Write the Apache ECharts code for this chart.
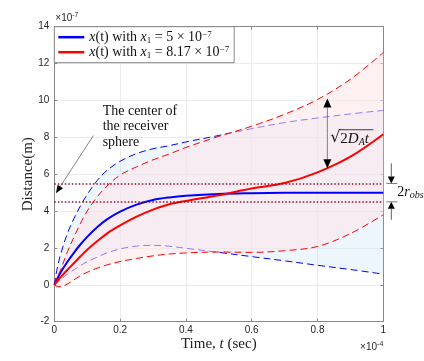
<!DOCTYPE html>
<html><head><meta charset="utf-8">
<script src="https://cdn.jsdelivr.net/npm/echarts/dist/echarts.min.js"></script>
<style>html,body{margin:0;padding:0;background:#fff}#c{width:424px;height:361px}</style>
</head><body><div id="c"></div>
<script>
// ---- data (time in units of 1e-4 s, distance in units of 1e-7 m) ----
const t          = [0, 0.01, 0.02, 0.04, 0.06, 0.08, 0.1, 0.13, 0.16, 0.2, 0.25, 0.3, 0.35, 0.4, 0.5, 0.6, 0.7, 0.8, 0.9, 1.0];
const blueMean   = [0, 0.36, 0.7, 1.25, 1.75, 2.2, 2.6, 3.12, 3.55, 3.97, 4.35, 4.6, 4.74, 4.83, 4.93, 4.97, 4.99, 5.0, 5.0, 5.0];
const redMean    = [0, 0.22, 0.43, 0.82, 1.18, 1.55, 1.9, 2.36, 2.78, 3.22, 3.7, 4.08, 4.37, 4.55, 4.86, 5.22, 5.52, 6.1, 6.95, 8.17];
const blueUpper  = [0, 1.0, 1.7, 2.8, 3.6, 4.3, 4.9, 5.65, 6.2, 6.7, 7.12, 7.38, 7.55, 7.75, 8.1, 8.47, 8.8, 9.05, 9.27, 9.46];
const blueLower  = [0, 0.15, 0.3, 0.58, 0.82, 1.05, 1.25, 1.5, 1.73, 1.95, 2.1, 2.14, 2.09, 1.98, 1.76, 1.53, 1.3, 1.06, 0.83, 0.58];
const redUpper   = [0, 0.45, 0.85, 1.8, 2.6, 3.35, 4.0, 4.77, 5.35, 5.95, 6.4, 6.78, 7.1, 7.45, 8.05, 8.6, 9.25, 10.05, 11.15, 12.6];
const redLower   = [0, -0.1, -0.1, 0.05, 0.27, 0.5, 0.68, 0.9, 1.08, 1.26, 1.43, 1.57, 1.67, 1.73, 1.78, 1.76, 1.85, 2.08, 2.78, 3.8];
const rObsBounds = [4.5, 5.5];
const receiverCenter = 5;
const legendNames = ['x(t) with x1 = 5 × 10^-7', 'x(t) with x1 = 8.17 × 10^-7'];
const legendRich  = ['{i|x}(t) with {i|x}{sub|1} = 5 × 10{sup|−7}', '{i|x}(t) with {i|x}{sub|1} = 8.17 × 10{sup|−7}'];
const xTicks = {min: 0, max: 1, interval: 0.2};
const yTicks = {min: -2, max: 14, interval: 2};
// annotation anchors (data coords)
const centerArrowFrom = [0.119, 8.1], centerArrowTo = [0.005, 4.97];
const centerText = 'The center of\nthe receiver\nsphere', centerTextAt = [0.147, 9.85];
const sqrtArrowT = 0.83, sqrtArrowTop = 10.1, sqrtArrowBottom = 6.32;

// value first, time second (so the value dimension is the stacked one)
const pairs = arr => t.map((x, i) => [arr[i], x]);
const diff = (a, b) => t.map((x, i) => [a[i] - b[i], x]);
const ENC = {x: 1, y: 0};
const SERIF = 'Liberation Serif';
const SANS = 'Liberation Sans';
const SM = 0.35;

const dashed = (name, arr, color, z) => ({
  name, type: 'line', data: pairs(arr), encode: ENC, showSymbol: false, symbol: 'none', smooth: SM, z,
  lineStyle: {color, width: 1, type: [7, 4]}, silent: true
});
const band = (stack, lower, upper, fill, z) => [
  {name: stack + 'Base', type: 'line', data: pairs(lower), encode: ENC, stack, stackStrategy: 'all', smooth: SM,
   showSymbol: false, symbol: 'none', lineStyle: {opacity: 0}, z, silent: true},
  {name: stack + 'Band', type: 'line', data: diff(upper, lower), encode: ENC, stack, stackStrategy: 'all', smooth: SM,
   showSymbol: false, symbol: 'none', lineStyle: {opacity: 0}, areaStyle: {color: fill, opacity: 1}, z, silent: true}
];

const option = {
  animation: false,
  backgroundColor: '#fff',
  grid: {left: 54.3, right: 40.7, top: 26.7, bottom: 39.3, outerBoundsMode: 'none', containLabel: false},
  legend: {
    data: legendNames, left: 54.3, top: 26.7, orient: 'vertical', itemGap: 0,
    padding: [3, 5, 3, 4], itemWidth: 26, itemHeight: 2.5, icon: 'rect',
    borderColor: '#888', borderWidth: 1, backgroundColor: '#fff', selectedMode: false,
    formatter: name => legendRich[legendNames.indexOf(name)],
    textStyle: {fontFamily: SERIF, fontSize: 14, color: '#111', lineHeight: 15,
      rich: {
        i: {fontFamily: SERIF, fontStyle: 'italic', fontSize: 14, lineHeight: 15},
        sub: {fontFamily: SERIF, fontSize: 9, verticalAlign: 'bottom', lineHeight: 15},
        sup: {fontFamily: SERIF, fontSize: 9, verticalAlign: 'top', lineHeight: 15}
      }}
  },
  xAxis: [{
    type: 'value', ...xTicks, position: 'bottom',
    name: 'Time, {i|t} (sec)', nameLocation: 'middle', nameGap: 15, nameMoveOverlap: false,
    nameTextStyle: {fontFamily: SERIF, fontSize: 15, color: '#222', rich: {i: {fontFamily: SERIF, fontStyle: 'italic', fontSize: 15}}},
    axisLine: {show: true, onZero: false, lineStyle: {color: '#888', width: 1}},
    axisTick: {show: true, inside: true, length: 3, lineStyle: {color: '#888'}},
    axisLabel: {fontFamily: SANS, fontSize: 10, color: '#262626', margin: 4},
    splitLine: {show: true, lineStyle: {color: '#ebebeb', width: 1}}
  }, {
    type: 'value', ...xTicks, position: 'top',
    axisLine: {show: true, onZero: false, lineStyle: {color: '#888', width: 1}},
    axisTick: {show: true, inside: true, length: 3, lineStyle: {color: '#888'}},
    axisLabel: {show: false}, splitLine: {show: false}
  }],
  yAxis: [{
    type: 'value', ...yTicks, position: 'left',
    name: 'Distance(m)', nameLocation: 'middle', nameGap: 19, nameRotate: 90, nameMoveOverlap: false,
    nameTextStyle: {fontFamily: SERIF, fontSize: 15, color: '#222'},
    axisLine: {show: true, onZero: false, lineStyle: {color: '#888', width: 1}},
    axisTick: {show: true, inside: true, length: 3, lineStyle: {color: '#888'}},
    axisLabel: {fontFamily: SANS, fontSize: 10, color: '#262626', margin: 5},
    splitLine: {show: true, lineStyle: {color: '#ebebeb', width: 1}}
  }, {
    type: 'value', ...yTicks, position: 'right',
    axisLine: {show: true, onZero: false, lineStyle: {color: '#888', width: 1}},
    axisTick: {show: true, inside: true, length: 3, lineStyle: {color: '#888'}},
    axisLabel: {show: false}, splitLine: {show: false}
  }],
  series: [
    ...band('b', blueLower, blueUpper, 'rgba(200,225,250,0.3)', 1),
    dashed('bU', blueUpper, '#0000ff', 2),
    dashed('bL', blueLower, '#0000ff', 2),
    ...band('r', redLower, redUpper, 'rgba(255,228,232,0.55)', 3),
    {name: legendNames[0], type: 'line', data: pairs(blueMean), encode: ENC, smooth: SM, showSymbol: false, symbol: 'none',
     color: '#0000ff', lineStyle: {color: '#0000ff', width: 2}, z: 4},
    {name: legendNames[1], type: 'line', data: pairs(redMean), encode: ENC, smooth: SM, showSymbol: false, symbol: 'none',
     color: '#ff0000', lineStyle: {color: '#ff0000', width: 2}, z: 4},
    dashed('rU', redUpper, '#ff0000', 4),
    dashed('rL', redLower, '#ff0000', 4),
    {name: 'bounds', type: 'line', data: [], z: 5, silent: true,
     markLine: {silent: true, symbol: 'none', label: {show: false},
       lineStyle: {color: '#8b1026', width: 1.5, type: [1.5, 2]},
       data: rObsBounds.map(v => ({yAxis: v}))}}
  ]
};

const chart = echarts.init(document.getElementById('c'), null, {renderer: 'canvas'});
chart.setOption(option);

const P = (x, y) => chart.convertToPixel({gridIndex: 0}, [x, y]);
function arrowEls(p0, p1, lineColor, headLen, headW) {
  const dx = p1[0] - p0[0], dy = p1[1] - p0[1], L = Math.hypot(dx, dy), ux = dx / L, uy = dy / L;
  const bx = p1[0] - ux * headLen, by = p1[1] - uy * headLen, nx = -uy, ny = ux;
  return [
    {type: 'line', shape: {x1: p0[0], y1: p0[1], x2: bx, y2: by}, style: {stroke: lineColor, lineWidth: 0.8}, z: 100, silent: true},
    {type: 'polygon', shape: {points: [[p1[0], p1[1]], [bx + nx * headW, by + ny * headW], [bx - nx * headW, by - ny * headW]]},
     style: {fill: '#000'}, z: 100, silent: true}
  ];
}
const g = [];
g.push(...arrowEls(P(...centerArrowFrom), P(...centerArrowTo), '#666', 8, 3.2));
const ct = P(...centerTextAt);
g.push({type: 'text', x: ct[0], y: ct[1], z: 100, silent: true,
  style: {text: centerText, fontFamily: SERIF, fontSize: 14, lineHeight: 15.5, fill: '#111', align: 'left', verticalAlign: 'top'}});
const sTop = P(sqrtArrowT, sqrtArrowTop), sBot = P(sqrtArrowT, sqrtArrowBottom);
const sMid = [(sTop[0]), (sTop[1] + sBot[1]) / 2];
g.push(...arrowEls(sMid, sTop, '#666', 9, 4));
g.push(...arrowEls(sMid, sBot, '#666', 9, 4));
const sq = P(sqrtArrowT, 7.95);
g.push({type: 'text', x: sq[0] + 3, y: sq[1], z: 100, silent: true,
  style: {text: '√', fontFamily: 'DejaVu Serif', fontSize: 16, fill: '#111', align: 'left', verticalAlign: 'middle'}});
g.push({type: 'text', x: sq[0] + 13, y: sq[1] + 1, z: 100, silent: true,
  style: {text: '2{i|D}{s|A}{i|t}', fontFamily: SERIF, fontSize: 15, fill: '#111', align: 'left', verticalAlign: 'middle',
    rich: {i: {fontFamily: SERIF, fontStyle: 'italic', fontSize: 15, lineHeight: 16},
           s: {fontFamily: SERIF, fontStyle: 'italic', fontSize: 10, verticalAlign: 'bottom', lineHeight: 16}}}});
g.push({type: 'line', shape: {x1: sq[0] + 11.5, y1: sq[1] - 8.5, x2: sq[0] + 46, y2: sq[1] - 8.5}, style: {stroke: '#111', lineWidth: 0.8}, z: 100, silent: true});
const pHi = P(1, rObsBounds[1]), pLo = P(1, rObsBounds[0]), pC = P(1, receiverCenter);
const ax = pHi[0] + 8;
g.push(...arrowEls([ax, pHi[1] - 20], [ax, pHi[1]], '#333', 7, 3.5));
g.push(...arrowEls([ax, pLo[1] + 18], [ax, pLo[1]], '#333', 7, 3.5));
g.push({type: 'line', shape: {x1: ax - 5, y1: pHi[1], x2: ax + 6, y2: pHi[1]}, style: {stroke: '#555', lineWidth: 0.8}, z: 100, silent: true});
g.push({type: 'line', shape: {x1: ax - 5, y1: pLo[1], x2: ax + 6, y2: pLo[1]}, style: {stroke: '#555', lineWidth: 0.8}, z: 100, silent: true});
g.push({type: 'text', x: ax + 6, y: pC[1], z: 100, silent: true,
  style: {text: '2{i|r}{s|obs}', fontFamily: SERIF, fontSize: 14, fill: '#111', align: 'left', verticalAlign: 'middle',
    rich: {i: {fontFamily: SERIF, fontStyle: 'italic', fontSize: 14, lineHeight: 16},
           s: {fontFamily: SERIF, fontStyle: 'italic', fontSize: 10, verticalAlign: 'bottom', lineHeight: 16}}}});
const tl = P(0, 14), br = P(1, -2);
g.push({type: 'text', x: tl[0] + 1, y: tl[1] - 1, z: 100, silent: true,
  style: {text: '×10{p|-7}', fontFamily: SANS, fontSize: 10, fill: '#262626', align: 'left', verticalAlign: 'bottom',
    rich: {p: {fontFamily: SANS, fontSize: 7, verticalAlign: 'top', lineHeight: 14}}}});
g.push({type: 'text', x: br[0], y: br[1] + 19, z: 100, silent: true,
  style: {text: '×10{p|-4}', fontFamily: SANS, fontSize: 10, fill: '#262626', align: 'right', verticalAlign: 'top',
    rich: {p: {fontFamily: SANS, fontSize: 7, verticalAlign: 'top', lineHeight: 14}}}});
chart.setOption({graphic: g});
</script></body></html>
